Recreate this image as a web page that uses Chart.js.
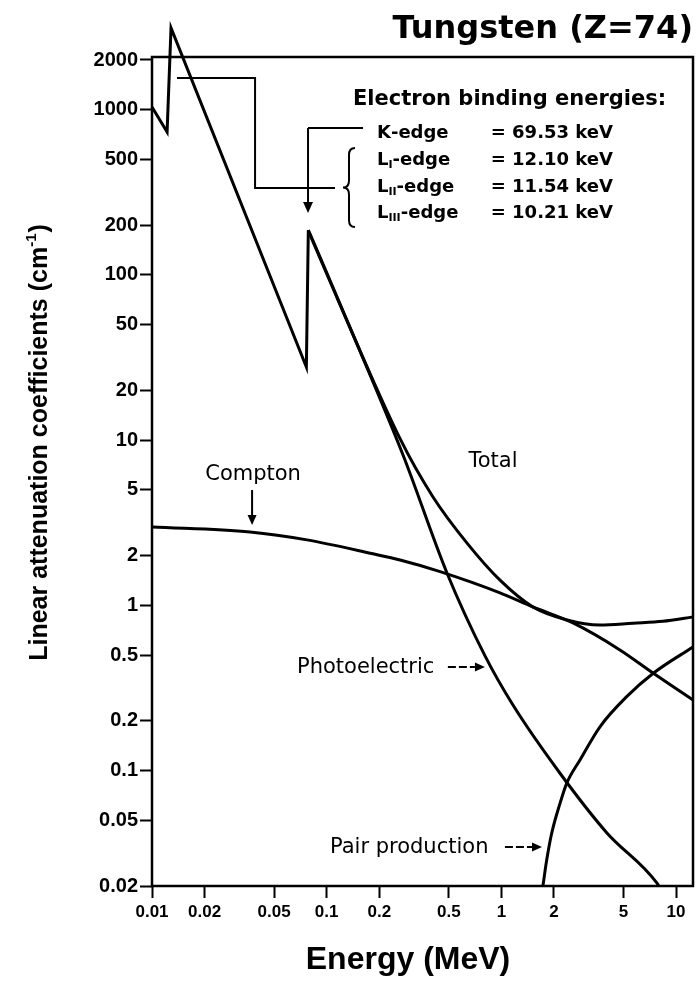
<!DOCTYPE html>
<html>
<head>
<meta charset="utf-8">
<script src="https://cdn.jsdelivr.net/npm/chart.js@4.4.1/dist/chart.umd.min.js"></script>
<style>
  html, body { margin: 0; padding: 0; background: #fff; }
</style>
</head>
<body>
<canvas id="tungstenChart" width="700" height="992"></canvas>
<script>
// axis ticks
const xTicks = [0.01, 0.02, 0.05, 0.1, 0.2, 0.5, 1, 2, 5, 10];
const yTicks = [0.02, 0.05, 0.1, 0.2, 0.5, 1, 2, 5, 10, 20, 50, 100, 200, 500, 1000, 2000];

// linear attenuation coefficients (cm-1) vs energy (MeV)
const totalEnergy = [0.01, 0.0122, 0.01285, 0.0765, 0.0785, 0.263, 0.406, 0.636, 0.982, 1.517, 2.374, 3.667, 5.67, 8.4, 12.5];
const totalMu     = [1040, 733, 3126, 27.7, 187, 10.2, 4.53, 2.38, 1.42, 0.977, 0.815, 0.760, 0.78, 0.80, 0.85];
const kEdgeIndex  = 4; // edges drawn straight up to here, smooth after

const photoEnergy = [0.0785, 0.2735, 0.488, 0.806, 1.165, 2.16, 4.02, 7.78, 8.3];
const photoMu     = [185, 8.13, 1.57, 0.494, 0.249, 0.0966, 0.0419, 0.0208, 0.0185];

const comptonEnergy = [0.01, 0.0364, 0.0771, 0.184, 0.263, 0.446, 0.982, 1.517, 2.57, 4.77, 7.38, 12.5];
const comptonMu     = [2.98, 2.78, 2.49, 2.05, 1.88, 1.60, 1.19, 0.977, 0.782, 0.537, 0.389, 0.267];

const pairEnergy = [1.70, 1.738, 1.817, 1.941, 2.166, 2.365, 2.818, 3.667, 5.215, 7.405, 12.5];
const pairMu     = [0.0177, 0.0208, 0.0287, 0.0417, 0.0633, 0.0837, 0.1158, 0.184, 0.28, 0.388, 0.56];

// electron binding energies box
const edgeNames  = [['K', '', '-edge'], ['L', 'I', '-edge'], ['L', 'II', '-edge'], ['L', 'III', '-edge']];
const edgeValues = ['= 69.53 keV', '= 12.10 keV', '= 11.54 keV', '= 10.21 keV'];
const edgeRows   = [723, 497, 341, 237];

const pts = (xs, ys) => xs.map((x, i) => ({ x: x, y: ys[i] }));

function arrow(ctx, x1, y1, x2, y2, head) {
    const a = Math.atan2(y2 - y1, x2 - x1);
    const bx = x2 - head * Math.cos(a), by = y2 - head * Math.sin(a);
    ctx.beginPath();
    ctx.moveTo(x1, y1);
    ctx.lineTo(bx, by);
    ctx.stroke();
    ctx.setLineDash([]);
    ctx.beginPath();
    ctx.moveTo(x2, y2);
    ctx.lineTo(bx + head * 0.45 * Math.sin(a), by - head * 0.45 * Math.cos(a));
    ctx.lineTo(bx - head * 0.45 * Math.sin(a), by + head * 0.45 * Math.cos(a));
    ctx.closePath();
    ctx.fill();
}

function brace(ctx, xr, yt, yb, xt) {
    const xm = (xr + xt) / 2, ym = (yt + yb) / 2;
    ctx.beginPath();
    ctx.moveTo(xr, yt);
    ctx.quadraticCurveTo(xm, yt, xm, yt + 7);
    ctx.lineTo(xm, ym - 7);
    ctx.quadraticCurveTo(xm, ym, xt, ym);
    ctx.quadraticCurveTo(xm, ym, xm, ym + 7);
    ctx.lineTo(xm, yb - 7);
    ctx.quadraticCurveTo(xm, yb, xr, yb);
    ctx.stroke();
}

const notes = {
    id: 'notes',
    afterDraw(chart) {
        const { ctx, chartArea: area, scales } = chart;
        const X = v => scales.x.getPixelForValue(v);
        const Y = v => scales.y.getPixelForValue(v);
        ctx.save();
        ctx.strokeStyle = '#000';
        ctx.fillStyle = '#000';

        // frame
        ctx.lineWidth = 2.5;
        ctx.strokeRect(area.left, area.top, area.right - area.left, area.bottom - area.top);

        // y title with superscript
        ctx.save();
        ctx.translate(40, 443);
        ctx.rotate(-Math.PI / 2);
        ctx.textBaseline = 'middle';
        const big = 'bold 25px "Liberation Sans", Arial, sans-serif';
        const sup = 'bold 15px "Liberation Sans", Arial, sans-serif';
        ctx.font = big;
        const t1 = 'Linear attenuation coefficients (cm', t3 = ')';
        const w1 = ctx.measureText(t1).width, w3 = ctx.measureText(t3).width;
        ctx.font = sup;
        const w2 = ctx.measureText('-1').width;
        let sx = -(w1 + w2 + w3) / 2;
        ctx.font = big;
        ctx.fillText(t1, sx, 0);
        ctx.font = sup;
        ctx.fillText('-1', sx + w1, -8);
        ctx.font = big;
        ctx.fillText(t3, sx + w1 + w2 + 1, 0);
        ctx.restore();

        // x title
        ctx.font = 'bold 32px "Liberation Sans", Arial, sans-serif';
        ctx.textAlign = 'center';
        ctx.textBaseline = 'middle';
        ctx.fillText('Energy (MeV)', 408, 960);

        // binding energy box
        ctx.textAlign = 'left';
        ctx.font = 'bold 21px "DejaVu Sans", sans-serif';
        ctx.fillText('Electron binding energies:', X(0.1415), Y(1146));
        edgeNames.forEach((n, i) => {
            const yy = Y(edgeRows[i]);
            let xx = X(0.194);
            ctx.font = 'bold 18px "DejaVu Sans", sans-serif';
            ctx.textAlign = 'left';
            ctx.fillText(n[0], xx, yy);
            xx += ctx.measureText(n[0]).width;
            if (n[1]) {
                ctx.font = 'bold 11px "DejaVu Sans", sans-serif';
                ctx.fillText(n[1], xx, yy + 5);
                xx += ctx.measureText(n[1]).width;
                ctx.font = 'bold 18px "DejaVu Sans", sans-serif';
            }
            ctx.fillText(n[2], xx, yy);
            ctx.textAlign = 'right';
            ctx.fillText(edgeValues[i], X(4.35), yy);
        });

        ctx.lineWidth = 2;
        brace(ctx, X(0.1452), Y(587), Y(195), X(0.124));

        // L-edge connector
        ctx.beginPath();
        ctx.moveTo(X(0.1116), Y(336));
        ctx.lineTo(X(0.0389), Y(336));
        ctx.lineTo(X(0.0389), Y(1556));
        ctx.lineTo(X(0.0139), Y(1556));
        ctx.stroke();

        // K-edge connector
        ctx.beginPath();
        ctx.moveTo(X(0.1614), Y(775));
        ctx.lineTo(X(0.0782), Y(775));
        ctx.stroke();
        arrow(ctx, X(0.0782), Y(775), X(0.0782), Y(237), 11);

        // curve labels
        ctx.font = '21px "DejaVu Sans", sans-serif';
        ctx.textAlign = 'center';
        ctx.fillText('Compton', X(0.0379), Y(6.15));
        ctx.fillText('Total', X(0.895), Y(7.37));
        ctx.textAlign = 'left';
        ctx.fillText('Photoelectric', X(0.0676), Y(0.423));
        ctx.fillText('Pair production', X(0.1044), Y(0.0344));

        ctx.lineWidth = 2;
        arrow(ctx, X(0.0374), Y(4.99), X(0.0374), Y(3.06), 10);
        ctx.setLineDash([8, 3]);
        arrow(ctx, X(0.494), Y(0.423), X(0.805), Y(0.423), 10);
        ctx.setLineDash([8, 3]);
        arrow(ctx, X(1.048), Y(0.0344), X(1.708), Y(0.0344), 10);

        ctx.restore();
    }
};

const lineStyle = { borderColor: '#000', borderWidth: 3, pointRadius: 0, fill: false };
const totalPts = pts(totalEnergy, totalMu);

const ctx = document.getElementById('tungstenChart').getContext('2d');
window.tungstenChart = new Chart(ctx, {
    type: 'line',
    data: {
        datasets: [
            // the L- and K-edge jumps are sharp, the rest of the total curve is smooth
            Object.assign({ label: 'Total', data: totalPts.slice(0, kEdgeIndex + 1), tension: 0, clip: false }, lineStyle),
            Object.assign({ label: 'Total ', data: totalPts.slice(kEdgeIndex), cubicInterpolationMode: 'monotone' }, lineStyle),
            Object.assign({ label: 'Photoelectric', data: pts(photoEnergy, photoMu), cubicInterpolationMode: 'monotone' }, lineStyle),
            Object.assign({ label: 'Compton', data: pts(comptonEnergy, comptonMu), cubicInterpolationMode: 'monotone' }, lineStyle),
            Object.assign({ label: 'Pair production', data: pts(pairEnergy, pairMu), cubicInterpolationMode: 'monotone' }, lineStyle)
        ]
    },
    options: {
        responsive: false,
        animation: false,
        layout: { padding: { top: 0, right: 7, bottom: 0, left: 0 } },
        plugins: {
            legend: { display: false },
            tooltip: { enabled: false },
            title: {
                display: true,
                text: 'Tungsten (Z=74)',
                align: 'end',
                color: '#000',
                font: { family: '"DejaVu Sans", sans-serif', size: 32, weight: 'bold', lineHeight: 1.2 },
                padding: { top: 10, bottom: 8.6 }
            }
        },
        scales: {
            x: {
                type: 'logarithmic',
                min: 0.01,
                max: 12.5,
                afterBuildTicks: s => { s.ticks = xTicks.map(v => ({ value: v })); },
                afterFit: s => { s.height = 106; },
                border: { display: false },
                grid: { drawOnChartArea: false, drawTicks: true, tickLength: 12, tickWidth: 2, tickColor: '#000' },
                ticks: {
                    autoSkip: false,
                    maxRotation: 0,
                    padding: 4,
                    color: '#000',
                    font: { family: '"Liberation Sans Narrow", "Liberation Sans", Arial, sans-serif', size: 17, weight: 'bold' },
                    callback: v => String(v)
                }
            },
            y: {
                type: 'logarithmic',
                min: 0.02,
                max: 2085,
                afterBuildTicks: s => { s.ticks = yTicks.map(v => ({ value: v })); },
                afterFit: s => { s.width = 152; },
                border: { display: false },
                grid: { drawOnChartArea: false, drawTicks: true, tickLength: 12, tickWidth: 2, tickColor: '#000' },
                ticks: {
                    autoSkip: false,
                    padding: 2,
                    color: '#000',
                    font: { family: '"Liberation Sans", Arial, sans-serif', size: 20, weight: 'bold' },
                    callback: v => String(v)
                }
            }
        }
    },
    plugins: [notes]
});
</script>
</body>
</html>
